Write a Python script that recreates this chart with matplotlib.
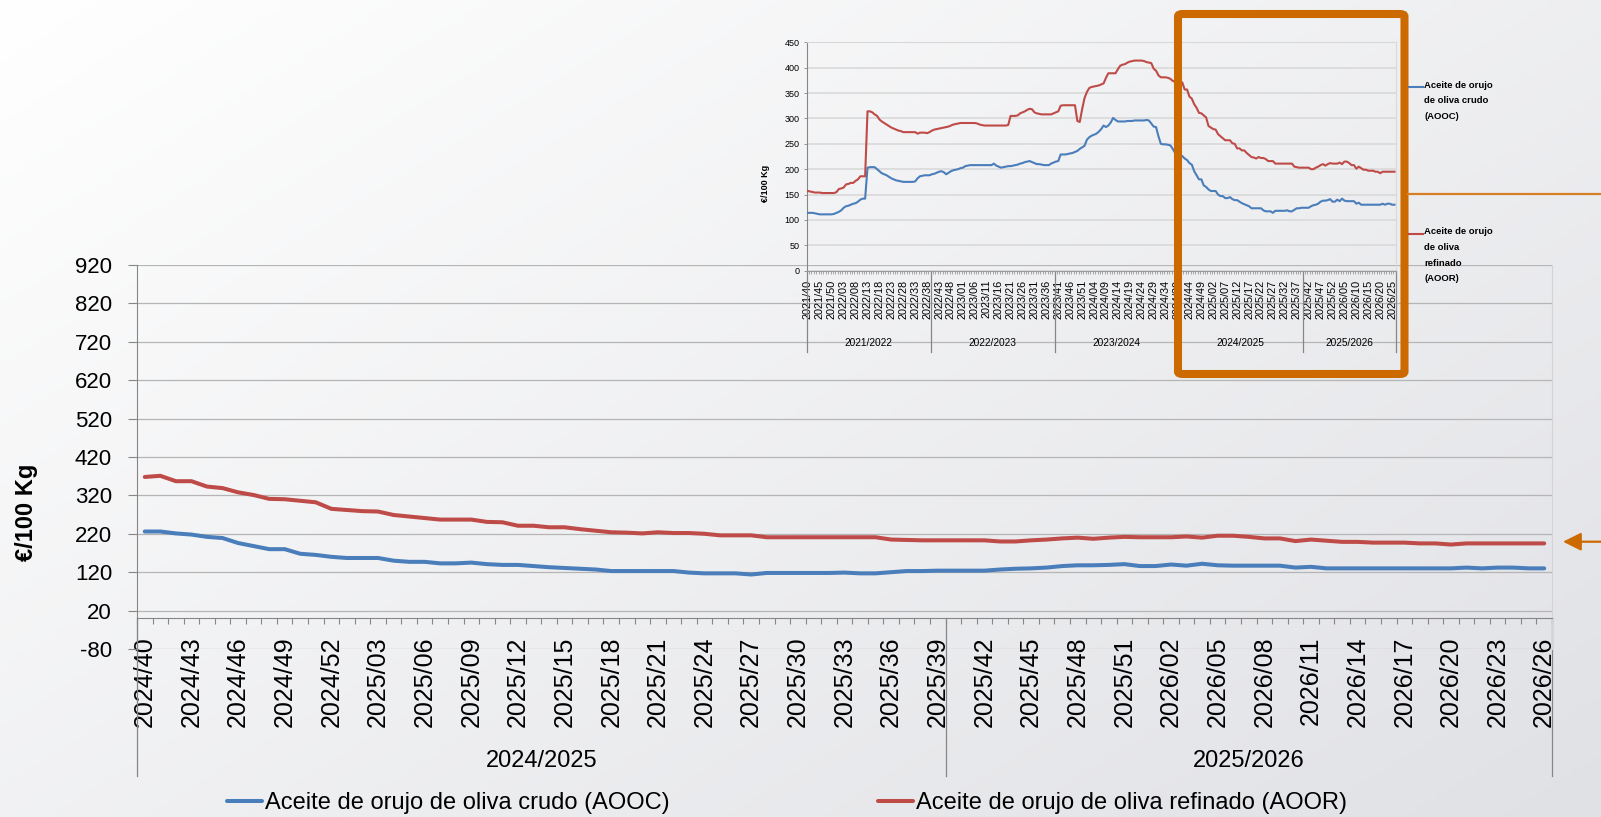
import matplotlib
matplotlib.use('Agg')
import matplotlib.pyplot as plt
import matplotlib.transforms as mtransforms
from matplotlib import font_manager
from matplotlib.lines import Line2D
from matplotlib.patches import FancyBboxPatch, FancyArrowPatch
import numpy as np

W, H, DPI = 1601, 817, 100

# weekly prices, EUR/100 kg, campaign weeks 2024/40 .. 2026/26 (main chart)
aooc = [226, 226, 221, 218, 212, 209, 196, 188, 180, 180, 168, 165, 160, 157, 157, 157, 150, 147, 147, 143,
        143, 145, 141, 139, 139, 136, 133, 131, 129, 127, 123, 123, 123, 123, 123, 119, 117, 117, 117, 114,
        118, 118, 118, 118, 118, 119, 117, 117, 120, 123, 123, 124, 124, 124, 124, 127, 129, 130, 132, 136,
        138, 138, 139, 141, 136, 136, 140, 137, 142, 138, 137, 137, 137, 137, 132, 134, 130, 130, 130, 130,
        130, 130, 130, 130, 130, 132, 130, 132, 132, 130, 130]
aoor = [368, 371, 357, 357, 343, 339, 328, 321, 311, 310, 306, 302, 285, 282, 279, 278, 269, 265, 261, 257,
        257, 257, 251, 250, 241, 241, 237, 237, 232, 228, 224, 223, 221, 224, 222, 222, 220, 216, 216, 216,
        211, 211, 211, 211, 211, 211, 211, 211, 205, 204, 203, 203, 203, 203, 203, 200, 200, 203, 205, 208,
        210, 207, 210, 212, 211, 211, 211, 213, 210, 215, 215, 212, 208, 208, 201, 205, 202, 199, 199, 197,
        197, 197, 195, 195, 192, 195, 195, 195, 195, 195, 195]

# earlier history 2021/40 .. 2024/39 (only in the small chart)
aooc_prev = [114, 114, 114, 113, 112, 111, 111, 111, 111, 111, 111, 112, 114, 116, 119, 124, 127, 128, 130, 132,
             133, 136, 140, 142, 142, 203, 204, 204, 204, 200, 196, 192, 190, 188, 185, 182, 180, 178, 177, 176,
             175, 175, 175, 175, 175, 176, 182, 186, 187, 188, 188, 188, 190, 191, 193, 195, 196, 194, 190, 193,
             196, 198, 199, 200, 202, 203, 206, 207, 208, 208, 208, 208, 208, 208, 208, 208, 208, 208, 211, 207,
             205, 203, 204, 205, 206, 206, 207, 208, 209, 211, 212, 214, 215, 216, 214, 212, 210, 210, 209, 208,
             208, 208, 211, 213, 215, 216, 229, 229, 229, 230, 231, 232, 234, 236, 240, 243, 246, 258, 263, 266,
             268, 270, 274, 279, 286, 283, 286, 292, 301, 297, 294, 294, 294, 294, 295, 295, 295, 296, 296, 296,
             296, 296, 297, 296, 290, 284, 283, 265, 250, 249, 249, 248, 247, 240, 232, 228]
aoor_prev = [157, 156, 155, 154, 154, 154, 153, 153, 153, 153, 153, 153, 155, 161, 162, 164, 170, 171, 173, 173,
             177, 180, 186, 186, 186, 314, 314, 312, 308, 305, 298, 294, 291, 288, 285, 282, 280, 278, 276, 275,
             273, 273, 273, 273, 273, 273, 270, 272, 272, 272, 271, 273, 276, 278, 279, 280, 281, 282, 283, 284,
             286, 288, 289, 290, 291, 291, 291, 291, 291, 291, 291, 290, 288, 287, 286, 286, 286, 286, 286, 286,
             286, 286, 286, 286, 287, 305, 305, 305, 306, 310, 312, 314, 317, 319, 318, 312, 310, 309, 308, 308,
             308, 308, 308, 310, 312, 314, 325, 326, 326, 326, 326, 326, 326, 295, 293, 318, 340, 352, 360, 362,
             363, 364, 365, 367, 369, 380, 389, 389, 389, 389, 397, 404, 406, 407, 410, 412, 413, 414, 414, 414,
             414, 413, 411, 410, 409, 398, 394, 385, 381, 381, 381, 380, 378, 374, 372, 370]

seasons_main = ['2024/2025', '2025/2026']
season_weeks_main = [52, 39]
seasons_small = ['2021/2022', '2022/2023', '2023/2024', '2024/2025', '2025/2026']
season_weeks_small = [52, 52, 52, 52, 39]

name_aooc = 'Aceite de orujo de oliva crudo (AOOC)'
name_aoor = 'Aceite de orujo de oliva refinado (AOOR)'
small_leg_aooc = 'Aceite de orujo\nde oliva crudo\n(AOOC)'
small_leg_aoor = 'Aceite de orujo\nde oliva\nrefinado\n(AOOR)'

BLUE = '#4A7EBB'
RED = '#BE4B48'
ORANGE = '#CC6A00'
AXIS = '#868686'


def first_font(names):
    have = {f.name for f in font_manager.fontManager.ttflist}
    for n in names:
        if n in have:
            return n
    return 'DejaVu Sans'


MAIN_FONT = first_font(['Liberation Sans', 'Arimo', 'DejaVu Sans'])
SMALL_FONT = first_font(['DejaVu Sans Condensed', 'Liberation Sans Narrow', 'Liberation Sans'])
plt.rcParams['font.family'] = [MAIN_FONT]
plt.rcParams['axes.unicode_minus'] = False


def week_labels(year, week, n):
    out = []
    for _ in range(n):
        out.append(f'{year}/{week:02d}')
        week += 1
        if week > 52:
            year += 1
            week = 1
    return out


def px(x, y):
    # pixel position (top-left origin) -> figure fraction
    return x / W, 1 - y / H


def season_axis(ax, names, lengths, y_top, y_bottom, y_text, fontsize, family):
    trans = mtransforms.blended_transform_factory(ax.transData, ax.transAxes)
    bounds = np.concatenate([[0], np.cumsum(lengths)]) - 0.5
    for b in bounds:
        ax.add_line(Line2D([b, b], [y_top, y_bottom], transform=trans, color=AXIS,
                           lw=0.9, clip_on=False))
    for name, a, b in zip(names, bounds[:-1], bounds[1:]):
        ax.text((a + b) / 2, y_text, name, transform=trans, ha='center', va='center',
                fontsize=fontsize, family=family)


fig = plt.figure(figsize=(W / DPI, H / DPI), dpi=DPI)

# soft grey gradient background
bg = fig.add_axes([0, 0, 1, 1], zorder=-10)
gx, gy = np.meshgrid(np.linspace(0, 1, 400), np.linspace(0, 1, 200))
t = np.clip(0.55 * gx + 0.45 * gy, 0, 1)[..., None]
c1 = np.array([224, 225, 229]) / 255
bg.imshow(np.ones(3) * (1 - t) + c1 * t, aspect='auto', extent=[0, 1, 0, 1], origin='upper')
bg.axis('off')

# ---------------- main chart ----------------
x0, y0 = px(137, 649)
x1, y1 = px(1552, 265)
ax = fig.add_axes([x0, y0, x1 - x0, y1 - y0])
ax.set_facecolor('none')

labels_main = week_labels(2024, 40, len(aooc))
xm = np.arange(len(aooc))
l_b, = ax.plot(xm, aooc, color=BLUE, lw=2.9, solid_capstyle='round', zorder=3)
l_r, = ax.plot(xm, aoor, color=RED, lw=2.9, solid_capstyle='round', zorder=3)
ax.set_xlim(-0.5, len(xm) - 0.5)
ax.set_ylim(-80, 920)
ax.set_yticks(np.arange(-80, 921, 100))
ax.yaxis.grid(True, color='#B5B5B5', lw=0.9)
ax.set_axisbelow(True)

ax.spines['bottom'].set_position(('data', 0))
ax.spines['top'].set_visible(False)
ax.spines['right'].set_color('#D4D4D4')
ax.spines['left'].set_color(AXIS)
ax.spines['bottom'].set_color(AXIS)

ax.set_xticks(xm[::3])
ax.set_xticklabels(labels_main[::3], rotation=90, fontsize=18)
ax.set_xticks(np.arange(-0.5, len(xm), 1), minor=True)
ax.tick_params(axis='x', which='major', length=0, pad=13)
ax.tick_params(axis='x', which='minor', length=4.3, width=0.8, color=AXIS)
ax.tick_params(axis='y', length=6.5, width=0.8, pad=11.5, labelsize=16, color=AXIS)

ax.text(-0.0784, 0.357, '€/100 Kg', transform=ax.transAxes, rotation=90,
        ha='center', va='center', fontsize=17, fontweight='bold')

season_axis(ax, seasons_main, season_weeks_main, 0.08, -0.331, -0.292, 17, MAIN_FONT)

fig.legend([l_b, l_r], [name_aooc, name_aoor], loc='center left',
           bbox_to_anchor=px(227, 803), ncol=2, frameon=False, fontsize=17,
           handlelength=1.5, handletextpad=0.12, columnspacing=8.8,
           borderpad=0, borderaxespad=0)

# ---------------- small chart (full history) ----------------
s_aooc = aooc_prev + aooc
s_aoor = aoor_prev + aoor
labels_small = week_labels(2021, 40, len(s_aooc))
xs = np.arange(len(s_aooc))

sx0, sy0 = px(806.7, 270.7)
sx1, sy1 = px(1395.7, 42.3)
axs = fig.add_axes([sx0, sy0, sx1 - sx0, sy1 - sy0])
axs.set_facecolor('none')
axs.plot(xs, s_aooc, color=BLUE, lw=1.5, zorder=3)
axs.plot(xs, s_aoor, color=RED, lw=1.5, zorder=3)
axs.set_xlim(-0.5, len(xs) - 0.5)
axs.set_ylim(0, 450)
axs.set_yticks(np.arange(0, 451, 50))
axs.yaxis.grid(True, color='#D9D9D9', lw=1.2)
axs.set_axisbelow(True)
for side in ['top', 'right']:
    axs.spines[side].set_color('#D9D9D9')
axs.spines['left'].set_color(AXIS)
axs.spines['bottom'].set_color('#9A9A9A')
for sp in axs.spines.values():
    sp.set_linewidth(0.8)

axs.set_xticks(xs[::5])
axs.set_xticklabels(labels_small[::5], rotation=90, fontsize=7.8, family=SMALL_FONT)
axs.set_xticks(np.arange(-0.5, len(xs), 1), minor=True)
axs.tick_params(axis='x', which='major', length=0, pad=6.5)
axs.tick_params(axis='x', which='minor', length=2.2, width=0.6, color='#9A9A9A')
axs.tick_params(axis='y', length=2, width=0.6, pad=3, labelsize=6.5, color=AXIS)
for lab in axs.get_yticklabels():
    lab.set_family(SMALL_FONT)

season_axis(axs, seasons_small, season_weeks_small, 0, -0.356, -0.317, 7.3, SMALL_FONT)

fig.text(*px(765, 183), '€/100 Kg', rotation=90, ha='center', va='center',
         fontsize=6.5, fontweight='bold', family=SMALL_FONT)

# small legend, first line of each label level with its key
for label, color, ky in [(small_leg_aooc, BLUE, 87), (small_leg_aoor, RED, 234)]:
    fig.add_artist(Line2D(*zip(px(1409, ky), px(1423, ky)), transform=fig.transFigure,
                          color=color, lw=1.5))
    fig.text(*px(1424, ky - 6.5), label, ha='left', va='top', fontsize=6.8,
             family=SMALL_FONT, fontweight='bold', linespacing=1.95)

# ---------------- highlight frame and arrows ----------------
fx0, fy0 = px(1178, 374)
fx1, fy1 = px(1404.5, 14)
fig.add_artist(FancyBboxPatch((fx0, fy0), fx1 - fx0, fy1 - fy0,
                              boxstyle='round,pad=0,rounding_size=0.003',
                              transform=fig.transFigure, fill=False, ec=ORANGE, lw=5.8))
fig.add_artist(Line2D(*zip(px(1408, 193.7), px(1601, 193.7)), transform=fig.transFigure,
                      color='#D77F25', lw=1.6))
fig.add_artist(FancyArrowPatch(px(1601, 541.7), px(1563, 541.7), transform=fig.transFigure,
                               arrowstyle='-|>,head_length=1,head_width=0.5', mutation_scale=11,
                               color=ORANGE, lw=1.6, shrinkA=0, shrinkB=0))

fig.savefig('out.png', dpi=DPI)
